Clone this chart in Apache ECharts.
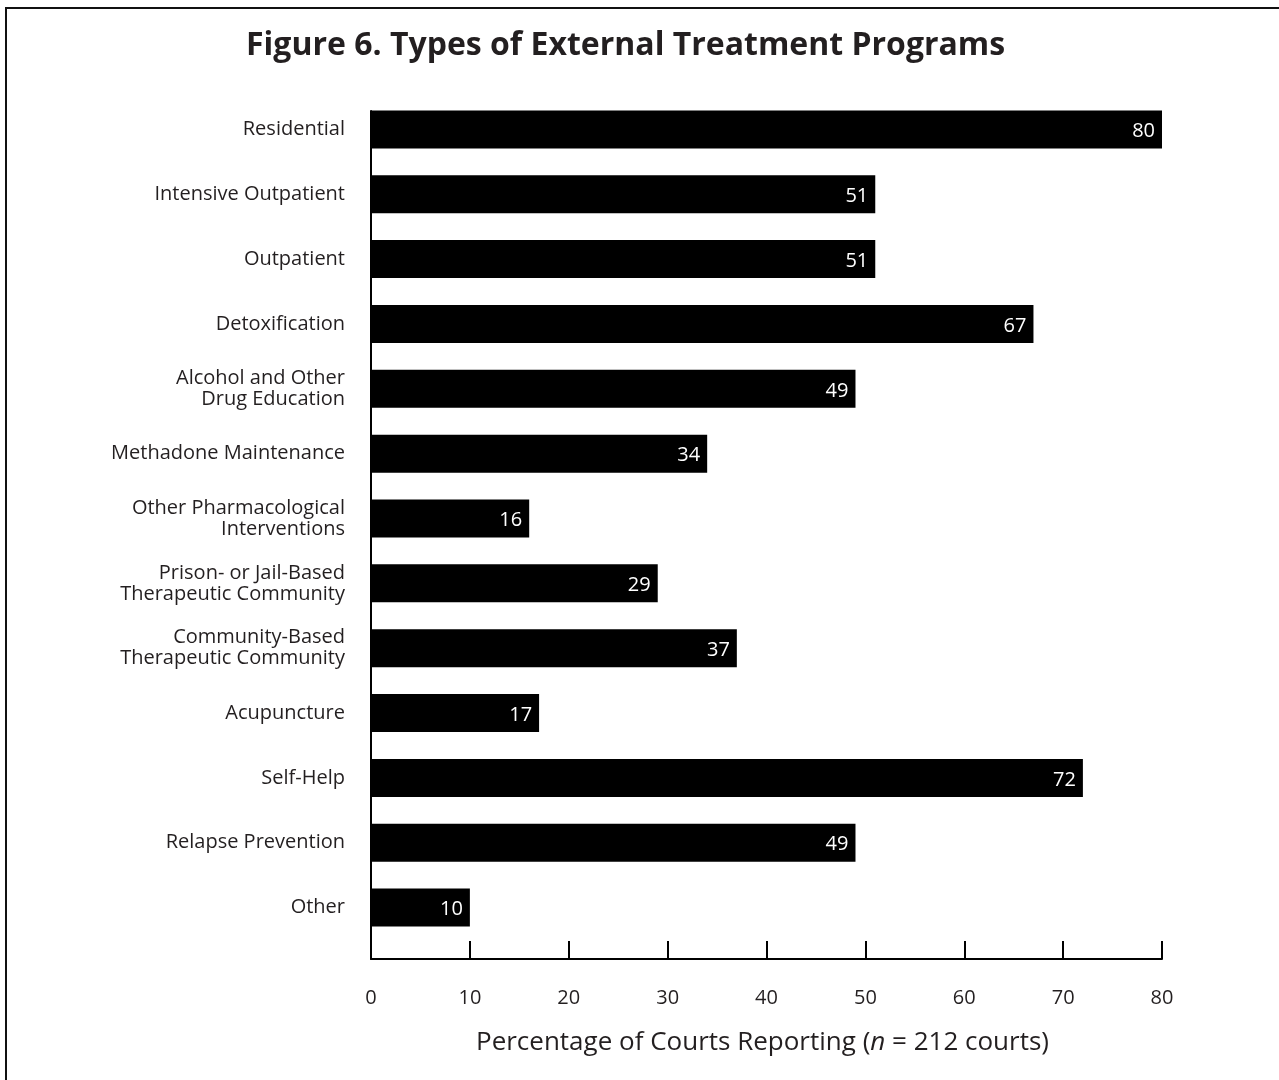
<!DOCTYPE html>
<html>
<head>
<meta charset="utf-8">
<script src="https://cdn.jsdelivr.net/npm/echarts@6/dist/echarts.min.js"></script>
<style>
html,body{margin:0;padding:0;background:#fff;}
#chart{position:absolute;left:0;top:0;width:1279px;height:1080px;}
#frame{position:absolute;left:5px;top:7px;width:1274px;height:1073px;border-left:2.5px solid #111;border-top:2.5px solid #111;box-sizing:border-box;pointer-events:none;}
</style>
</head>
<body>
<div id="chart"></div>
<div id="frame"></div>
<script>
var categories = [
  'Residential',
  'Intensive Outpatient',
  'Outpatient',
  'Detoxification',
  'Alcohol and Other\nDrug Education',
  'Methadone Maintenance',
  'Other Pharmacological\nInterventions',
  'Prison- or Jail-Based\nTherapeutic Community',
  'Community-Based\nTherapeutic Community',
  'Acupuncture',
  'Self-Help',
  'Relapse Prevention',
  'Other'
];
var values = [80, 51, 51, 67, 49, 34, 16, 29, 37, 17, 72, 49, 10];
var xTicks = [0, 10, 20, 30, 40, 50, 60, 70, 80];

var FONT = '"Open Sans", Lato, sans-serif';
var INK = '#231f20';

var chart = echarts.init(document.getElementById('chart'), null, {renderer: 'canvas'});
chart.setOption({
  animation: false,
  backgroundColor: '#fff',
  title: {
    text: 'Figure 6. Types of External Treatment Programs',
    left: 246,
    top: 30,
    padding: 0,
    textStyle: {fontFamily: FONT, fontWeight: 'bold', fontSize: 32, color: INK}
  },
  grid: [
    {left: 371, right: 117, top: 97, height: 843, containLabel: false},
    {left: 371, right: 117, top: 111, height: 848, containLabel: false}
  ],
  xAxis: [
    {
      gridIndex: 0, type: 'value', min: xTicks[0], max: xTicks[xTicks.length - 1], interval: 10,
      show: false
    },
    {
      gridIndex: 1, type: 'value', min: xTicks[0], max: xTicks[xTicks.length - 1], interval: 10,
      axisLine: {show: true, lineStyle: {color: '#000', width: 2}},
      axisTick: {show: true, inside: true, length: 18, lineStyle: {color: '#000', width: 2}},
      splitLine: {show: false},
      axisLabel: {color: INK, fontFamily: FONT, fontSize: 20, margin: 29},
      name: '{a|Percentage of Courts Reporting (}{i|n}{a| = 212 courts)}',
      nameLocation: 'middle',
      nameGap: 71,
      nameTextStyle: {
        padding: [0, 8, 0, 0],
        rich: {
          a: {fontFamily: FONT, fontSize: 26, color: INK},
          i: {fontFamily: FONT, fontSize: 26, color: INK, fontStyle: 'italic'}
        }
      }
    }
  ],
  yAxis: [
    {
      gridIndex: 0, type: 'category', data: categories, inverse: true,
      axisLine: {show: false}, axisTick: {show: false}, splitLine: {show: false},
      axisLabel: {color: INK, fontFamily: FONT, fontSize: 20, lineHeight: 21, margin: 26, align: 'right', padding: [3, 0, 0, 0]}
    },
    {
      gridIndex: 1, type: 'value', min: 0, max: 1,
      axisLine: {show: true, lineStyle: {color: '#000', width: 2}},
      axisTick: {show: false}, axisLabel: {show: false}, splitLine: {show: false}
    }
  ],
  series: [
    {
      type: 'bar',
      xAxisIndex: 0, yAxisIndex: 0,
      data: values,
      barWidth: 38,
      itemStyle: {color: '#000'},
      label: {
        show: true, position: 'insideRight', distance: 7, offset: [0, 2],
        color: '#fff', fontFamily: FONT, fontSize: 20
      },
      z: 3
    }
  ]
});
</script>
</body>
</html>
